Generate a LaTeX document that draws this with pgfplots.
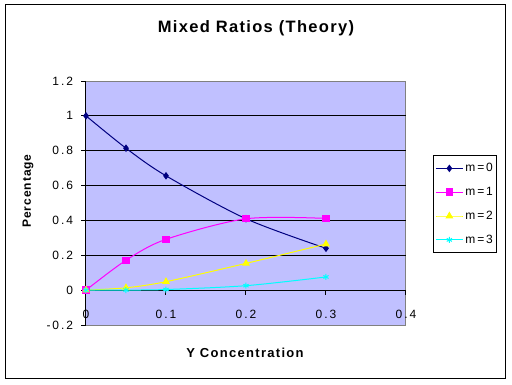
\documentclass[border=0pt]{standalone}
\usepackage{fontspec}
\setmainfont{Liberation Sans}
\newfontfamily\tickfont[LetterSpace=16]{Liberation Sans}
\newfontfamily\labfont[LetterSpace=10]{Liberation Sans}
\newfontfamily\ylabfont[LetterSpace=8]{Liberation Sans}
\newfontfamily\titfont[LetterSpace=8]{Liberation Sans}
\usepackage{pgfplots}
\pgfplotsset{compat=1.18}
\definecolor{plotbg}{RGB}{192,192,255}
\definecolor{navyblue}{RGB}{0,0,128}
\definecolor{mag}{RGB}{255,0,255}
\definecolor{yel}{RGB}{255,255,0}
\definecolor{cya}{RGB}{0,255,255}
\begin{document}
\begin{tikzpicture}[x=1pt,y=1pt]
\path[use as bounding box, fill=white] (0,0) rectangle (512,384);
\draw[black, line width=1pt] (5.5,5.5) rectangle (505,379);
\node[font=\fontsize{16.5}{19}\selectfont\titfont\bfseries] at (256,356) {Mixed Ratios (Theory)};
\node[rotate=90, font=\fontsize{12}{14}\selectfont\ylabfont\bfseries] at (28,193) {Percentage};
\node[font=\fontsize{13}{15}\selectfont\labfont\bfseries] at (245,31) {Y Concentration};
\begin{axis}[
  at={(86pt,59pt)}, anchor=south west, scale only axis,
  width=320pt, height=244pt,
  xmin=0, xmax=0.4, ymin=-0.2, ymax=1.2,
  axis x line=middle, axis y line=left,
  axis line style={-, black, line width=1pt},
  axis background/.style={fill=plotbg, draw=gray, line width=1pt},
  xtick={0,0.1,0.2,0.3,0.4},
  ytick={-0.2,0,0.2,0.4,0.6,0.8,1,1.2},
  extra y ticks={0.2,0.4,0.6,0.8,1},
  extra y tick labels={},
  extra y tick style={ymajorgrids=true, major grid style={black, line width=1pt}, major tick length=0pt},
  hide obscured x ticks=false, hide obscured y ticks=false,
  tick align=outside, major tick length=4.5pt,
  tick style={black, line width=1pt},
  /pgf/number format/assume math mode=true,
  ticklabel style={font=\fontsize{12}{14}\selectfont\tickfont},
  yticklabel style={xshift=-5pt},
  xticklabel style={yshift=-12pt},
  legend style={at={(1.084,0.697)}, anchor=north west, draw=black, fill=white,
    line width=1pt, font=\fontsize{12}{14}\selectfont\tickfont,
    row sep=10pt, inner xsep=2pt, inner ysep=6pt},
  legend cell align=left,
  legend image code/.code={\draw[mark repeat=2,mark phase=2,#1] plot coordinates {(0pt,0pt)(13.5pt,0pt)(27pt,0pt)};},
  clip=false,
]
\addplot[navyblue, smooth, line width=1pt, mark=diamond*, mark size=3pt, mark options={fill=navyblue}]
  coordinates {(0,1)(0.05,0.8145)(0.1,0.6561)(0.2,0.4096)(0.3,0.2401)};
\addlegendentry{m=0}
\addplot[mag, smooth, line width=1pt, mark=square*, mark size=3.2pt, mark options={fill=mag}]
  coordinates {(0,0)(0.05,0.1715)(0.1,0.2916)(0.2,0.4096)(0.3,0.4116)};
\addlegendentry{m=1}
\addplot[yel, smooth, line width=1pt, mark=triangle*, mark size=3.5pt, mark options={fill=yel}]
  coordinates {(0,0)(0.05,0.0135)(0.1,0.0486)(0.2,0.1536)(0.3,0.2646)};
\addlegendentry{m=2}
\addplot[cya, smooth, line width=1pt, mark=asterisk, mark size=3pt]
  coordinates {(0,0)(0.05,0.0005)(0.1,0.0036)(0.2,0.0256)(0.3,0.0756)};
\addlegendentry{m=3}
\end{axis}
\end{tikzpicture}
\end{document}
